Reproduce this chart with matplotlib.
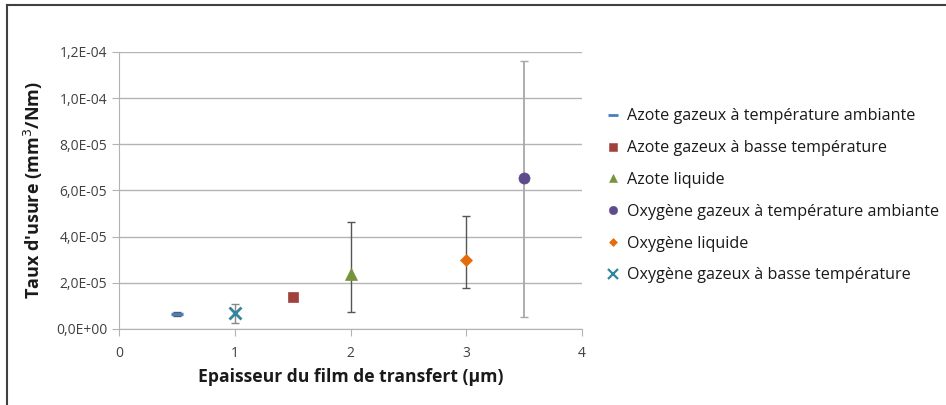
import matplotlib
matplotlib.use("Agg")
import matplotlib.pyplot as plt
from matplotlib.ticker import FuncFormatter, MultipleLocator
from matplotlib.lines import Line2D

plt.rcParams['font.family'] = ['Open Sans', 'DejaVu Sans']

# ---------------------------------------------------------------------------
# Data
# ---------------------------------------------------------------------------
series = [
    "Azote gazeux à température ambiante",
    "Azote gazeux à basse température",
    "Azote liquide",
    "Oxygène gazeux à température ambiante",
    "Oxygène liquide",
    "Oxygène gazeux à basse température",
]
thickness = [0.5, 1.5, 2.0, 3.5, 3.0, 1.0]
wear_rate = [6.5e-6, 1.4e-5, 2.4e-5, 6.55e-5, 3.0e-5, 7.1e-6]
err_low = [0.8e-6, 0.0, 1.65e-5, 6.03e-5, 1.24e-5, 4.5e-6]
err_high = [1.0e-6, 0.0, 2.25e-5, 5.07e-5, 1.88e-5, 3.6e-6]

markers = ["_", "s", "^", "o", "D", "x"]
sizes = [9, 7, 8, 8, 6, 9]
colors = ["#4a7ebb", "#a0413c", "#77933c", "#5f4b8b", "#e46c0a", "#31859c"]
err_colors = ["#555555", "#555555", "#555555", "#a8a8a8", "#555555", "#888888"]

fig = plt.figure(figsize=(9.46, 4.05), dpi=100)
ax = fig.add_axes([119 / 946, 1 - 329 / 405, 463 / 946, 277 / 405])

handles = []
for i, name in enumerate(series):
    if err_low[i] > 0 or err_high[i] > 0:
        ax.errorbar(thickness[i], wear_rate[i],
                    yerr=[[err_low[i]], [err_high[i]]],
                    fmt="none", ecolor=err_colors[i], elinewidth=1.3 if i == 3 else 1.0,
                    capsize=3, capthick=1.0, zorder=2)
    mew = 2.5 if markers[i] == "_" else (2.0 if markers[i] == "x" else 0.5)
    ax.plot(thickness[i], wear_rate[i], linestyle="none", marker=markers[i],
            markersize=sizes[i], color=colors[i], markeredgewidth=mew, zorder=3)
    handles.append(Line2D([], [], linestyle="none", marker=markers[i],
                          markersize=sizes[i] * 0.75, color=colors[i],
                          markeredgewidth=mew * 0.8, label=name))

ax.set_xlim(0, 4)
ax.set_ylim(0, 1.2e-4)
ax.xaxis.set_major_locator(MultipleLocator(1))
ax.yaxis.set_major_locator(MultipleLocator(2e-5))


def sci_fr(v, pos):
    s = "%.1E" % v
    return s.replace(".", ",")


ax.yaxis.set_major_formatter(FuncFormatter(sci_fr))
ax.grid(axis="y", color="#b3b3b3", linewidth=1.0)
ax.set_axisbelow(True)
for side in ("top", "right"):
    ax.spines[side].set_visible(False)
for side in ("left", "bottom"):
    ax.spines[side].set_color("#b3b3b3")
ax.tick_params(axis="both", colors="#b3b3b3", labelcolor="#404040",
               labelsize=10, length=5)
ax.tick_params(axis="x", pad=7)

ax.set_xlabel("Epaisseur du film de transfert (µm)", fontsize=12.6,
              fontweight="bold", color="#1a1a1a", labelpad=5)
ax.set_ylabel("Taux d'usure (mm$^3$/Nm)", fontsize=13,
              fontweight="bold", color="#1a1a1a", labelpad=8)

fig.legend(handles=handles, loc="upper left", bbox_to_anchor=(600 / 946, 1 - 102 / 405),
           frameon=False, fontsize=11.6, handlelength=0.8, handletextpad=0.5,
           labelspacing=0.98, borderaxespad=0, labelcolor="#1a1a1a")

# chart frame (top and left edges visible in the reference)
fig.add_artist(Line2D([7 / 946, 1.0], [1 - 5 / 405, 1 - 5 / 405],
                      transform=fig.transFigure, color="#404040", linewidth=1.5))
fig.add_artist(Line2D([7 / 946, 7 / 946], [0, 1 - 5 / 405],
                      transform=fig.transFigure, color="#404040", linewidth=1.5))

fig.savefig("out.png", dpi=100)
